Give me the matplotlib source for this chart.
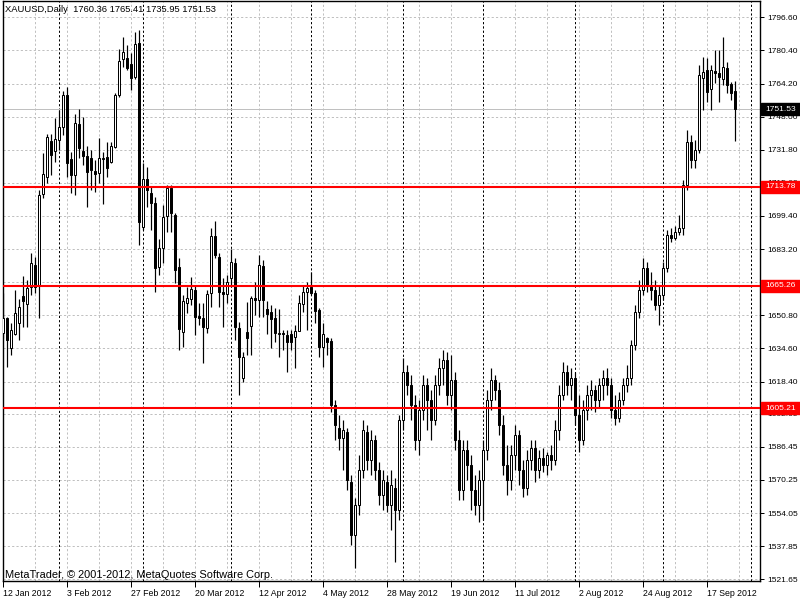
import matplotlib
matplotlib.use("Agg")
import matplotlib.pyplot as plt
from matplotlib import font_manager
from matplotlib.patches import Rectangle
from matplotlib.transforms import IdentityTransform

# ---------------- data ----------------
opens = [1642.1, 1649.5, 1634.8, 1641.6, 1647.0, 1660.2, 1656.3, 1664.6, 1675.4, 1665.6,
         1710.1, 1718.4, 1736.0, 1731.2, 1736.5, 1742.9, 1758.5, 1727.3, 1719.4, 1744.4,
         1731.2, 1728.7, 1727.8, 1721.4, 1720.4, 1727.5, 1728.2, 1725.8, 1733.1, 1758.5,
         1776.2, 1776.7, 1773.7, 1767.4, 1784.0, 1694.0, 1717.5, 1710.6, 1705.7, 1674.4,
         1683.7, 1699.4, 1713.1, 1699.9, 1674.4, 1642.6, 1656.8, 1658.8, 1663.1, 1650.4,
         1649.4, 1644.6, 1661.7, 1689.6, 1679.3, 1662.2, 1661.2, 1669.0, 1676.4, 1644.6,
         1620.0, 1642.6, 1645.5, 1659.2, 1658.3, 1674.9, 1653.9, 1652.4, 1649.4, 1641.6,
         1642.1, 1641.1, 1641.6, 1640.2, 1643.1, 1656.3, 1662.2, 1664.6, 1661.7, 1653.4,
         1635.3, 1639.7, 1638.2, 1606.9, 1595.7, 1590.8, 1593.7, 1569.3, 1543.3, 1558.0,
         1575.1, 1593.7, 1580.0, 1589.8, 1575.1, 1562.9, 1569.3, 1558.0, 1566.3, 1555.6,
         1599.6, 1623.1, 1616.7, 1606.9, 1589.8, 1604.5, 1616.7, 1609.4, 1599.6, 1616.7,
         1625.0, 1628.9, 1611.8, 1619.2, 1589.8, 1565.3, 1584.9, 1577.6, 1565.3, 1558.0,
         1570.2, 1584.9, 1609.4, 1619.2, 1614.3, 1597.1, 1577.6, 1570.2, 1582.5, 1592.3,
         1575.1, 1566.3, 1580.0, 1585.9, 1575.1, 1581.0, 1577.6, 1582.5, 1580.0, 1594.7,
         1611.8, 1623.1, 1616.7, 1620.1, 1602.0, 1589.8, 1604.5, 1611.8, 1614.3, 1609.4,
         1616.7, 1620.1, 1616.7, 1604.5, 1600.6, 1609.4, 1616.7, 1620.1, 1636.3, 1652.4,
         1663.2, 1674.0, 1665.6, 1663.2, 1655.8, 1660.7, 1674.0, 1690.1, 1688.6, 1691.6,
         1693.5, 1714.5, 1735.6, 1726.8, 1731.7, 1766.9, 1770.8, 1761.5, 1770.3, 1769.3,
         1766.4, 1771.8, 1764.0, 1760.36]

highs = [1661.7, 1650.0, 1647.0, 1663.2, 1658.7, 1670.0, 1668.0, 1681.2, 1679.3, 1712.1,
         1730.2, 1739.5, 1739.5, 1747.3, 1751.2, 1760.5, 1762.5, 1730.7, 1749.3, 1751.7,
         1747.8, 1733.6, 1731.6, 1726.8, 1737.5, 1730.7, 1735.6, 1735.6, 1759.5, 1781.1,
         1786.9, 1783.0, 1779.1, 1789.4, 1790.4, 1725.3, 1723.4, 1713.6, 1708.7, 1688.1,
         1704.8, 1714.6, 1714.6, 1700.8, 1678.8, 1660.7, 1664.6, 1669.5, 1665.6, 1656.8,
         1656.8, 1663.2, 1693.5, 1696.9, 1681.2, 1669.0, 1670.5, 1683.2, 1678.8, 1647.5,
         1632.8, 1657.3, 1660.2, 1667.1, 1680.3, 1677.8, 1657.8, 1655.8, 1654.4, 1653.9,
         1643.6, 1643.6, 1643.6, 1646.0, 1660.7, 1665.6, 1667.1, 1672.0, 1663.2, 1654.4,
         1647.0, 1640.2, 1639.7, 1609.4, 1602.0, 1599.6, 1595.7, 1572.7, 1561.4, 1582.5,
         1599.6, 1597.1, 1594.7, 1592.3, 1579.0, 1575.1, 1572.7, 1575.1, 1571.2, 1602.0,
         1629.9, 1626.5, 1621.6, 1611.8, 1609.4, 1621.6, 1620.1, 1614.3, 1621.6, 1629.9,
         1633.8, 1632.9, 1631.4, 1623.1, 1594.7, 1589.8, 1589.8, 1582.5, 1572.7, 1575.1,
         1589.8, 1614.3, 1625.0, 1621.6, 1618.2, 1602.0, 1587.4, 1587.4, 1597.1, 1594.7,
         1580.0, 1584.9, 1589.8, 1589.8, 1584.9, 1585.9, 1583.9, 1587.4, 1599.6, 1616.7,
         1628.0, 1626.5, 1625.0, 1623.1, 1611.8, 1609.4, 1616.7, 1619.2, 1616.7, 1620.1,
         1624.0, 1625.0, 1620.1, 1611.8, 1613.3, 1620.1, 1626.5, 1638.7, 1655.8, 1668.1,
         1678.8, 1676.9, 1672.0, 1668.1, 1665.6, 1676.9, 1692.5, 1693.5, 1694.5, 1699.9,
         1717.0, 1741.5, 1739.0, 1736.6, 1773.3, 1777.2, 1776.7, 1773.3, 1780.6, 1780.6,
         1786.9, 1774.7, 1764.9, 1765.41]

lows = [1639.7, 1625.5, 1631.3, 1641.1, 1638.7, 1645.0, 1645.0, 1660.7, 1661.7, 1649.5,
        1708.2, 1715.5, 1719.4, 1725.8, 1731.7, 1739.0, 1718.4, 1710.6, 1709.6, 1727.8,
        1724.3, 1703.8, 1712.1, 1711.1, 1715.5, 1705.2, 1718.4, 1725.3, 1732.6, 1757.6,
        1772.3, 1770.8, 1761.0, 1766.4, 1685.2, 1692.5, 1703.8, 1692.5, 1662.2, 1670.5,
        1676.4, 1691.5, 1691.5, 1666.6, 1633.8, 1635.3, 1651.9, 1655.8, 1641.1, 1646.0,
        1627.5, 1642.1, 1654.9, 1678.8, 1654.9, 1645.0, 1656.8, 1664.6, 1638.7, 1611.8,
        1618.2, 1631.3, 1631.3, 1650.9, 1649.9, 1649.9, 1641.6, 1634.8, 1637.7, 1630.4,
        1633.8, 1623.0, 1633.8, 1625.0, 1643.1, 1652.4, 1643.6, 1660.7, 1647.0, 1630.4,
        1625.5, 1631.3, 1603.5, 1589.8, 1584.9, 1575.1, 1565.3, 1538.4, 1527.2, 1553.1,
        1571.2, 1575.1, 1572.7, 1570.2, 1558.0, 1555.6, 1554.6, 1545.8, 1530.1, 1550.7,
        1594.7, 1611.8, 1599.6, 1584.9, 1582.5, 1599.6, 1594.7, 1589.8, 1597.1, 1611.8,
        1616.7, 1606.9, 1604.5, 1584.9, 1560.5, 1560.5, 1570.2, 1555.6, 1553.1, 1549.7,
        1550.7, 1580.0, 1604.5, 1609.4, 1592.3, 1572.7, 1562.9, 1565.3, 1575.1, 1567.8,
        1561.9, 1562.9, 1575.1, 1569.3, 1571.2, 1574.2, 1572.7, 1575.1, 1577.6, 1589.8,
        1609.4, 1611.8, 1609.4, 1597.1, 1583.9, 1587.4, 1599.6, 1604.5, 1603.5, 1605.5,
        1609.4, 1611.8, 1600.6, 1597.1, 1598.6, 1606.9, 1613.3, 1616.7, 1633.8, 1649.5,
        1660.7, 1662.2, 1658.3, 1653.4, 1646.1, 1658.3, 1672.0, 1686.7, 1687.6, 1690.1,
        1690.1, 1712.1, 1722.9, 1722.9, 1730.2, 1751.2, 1755.2, 1751.2, 1764.4, 1755.2,
        1763.5, 1759.5, 1756.1, 1735.95]

closes = [1649.5, 1638.7, 1643.6, 1651.9, 1654.8, 1657.8, 1664.1, 1676.3, 1664.6, 1709.6,
          1719.9, 1738.0, 1729.2, 1737.0, 1742.9, 1758.5, 1725.3, 1719.4, 1744.9, 1732.7,
          1728.7, 1720.9, 1721.9, 1719.9, 1727.8, 1728.0, 1722.9, 1733.6, 1758.5, 1775.2,
          1779.6, 1771.8, 1766.9, 1783.5, 1696.4, 1717.5, 1712.1, 1705.7, 1673.9, 1683.7,
          1698.9, 1713.1, 1700.8, 1673.0, 1644.1, 1657.8, 1659.2, 1663.6, 1649.9, 1649.4,
          1645.0, 1661.2, 1689.6, 1680.3, 1662.2, 1661.2, 1667.1, 1676.9, 1645.0, 1630.4,
          1630.4, 1639.7, 1659.2, 1658.3, 1675.4, 1658.3, 1651.4, 1649.0, 1642.1, 1642.1,
          1641.6, 1637.7, 1637.7, 1643.1, 1656.8, 1662.2, 1664.1, 1661.7, 1652.9, 1635.3,
          1641.6, 1637.7, 1606.9, 1597.1, 1590.8, 1594.7, 1570.2, 1543.3, 1558.0, 1575.1,
          1594.7, 1580.0, 1589.8, 1575.1, 1562.9, 1570.2, 1558.0, 1567.8, 1555.6, 1599.6,
          1623.1, 1616.7, 1606.9, 1589.8, 1604.5, 1616.7, 1609.4, 1599.6, 1616.7, 1625.0,
          1628.9, 1611.8, 1619.2, 1589.8, 1565.3, 1584.9, 1577.6, 1565.3, 1558.0, 1570.2,
          1584.9, 1609.4, 1619.2, 1614.3, 1597.1, 1577.6, 1570.2, 1582.5, 1592.3, 1575.1,
          1566.3, 1580.0, 1585.9, 1575.1, 1581.0, 1577.6, 1582.5, 1580.0, 1594.7, 1611.8,
          1623.1, 1616.7, 1620.1, 1602.0, 1589.8, 1604.5, 1611.8, 1614.3, 1609.4, 1616.7,
          1620.1, 1616.7, 1604.5, 1600.6, 1609.4, 1616.7, 1620.1, 1636.3, 1652.4, 1663.2,
          1674.0, 1665.6, 1663.2, 1655.8, 1660.7, 1674.0, 1690.1, 1688.6, 1691.6, 1693.5,
          1714.5, 1735.6, 1726.8, 1731.7, 1768.4, 1769.8, 1760.0, 1770.8, 1769.3, 1767.4,
          1772.3, 1763.5, 1759.5, 1751.53]

date_labels = ["12 Jan 2012", "3 Feb 2012", "27 Feb 2012", "20 Mar 2012", "12 Apr 2012",
               "4 May 2012", "28 May 2012", "19 Jun 2012", "11 Jul 2012", "2 Aug 2012",
               "24 Aug 2012", "17 Sep 2012"]
bars_per_label = 16
month_start_bars = [14, 35, 57, 77, 100, 120, 143, 165, 187]
price_ticks = [1796.60, 1780.40, 1764.20, 1748.00, 1731.80, 1715.60, 1699.40, 1683.20,
               1667.00, 1650.80, 1634.60, 1618.40, 1602.65, 1586.45, 1570.25, 1554.05,
               1537.85, 1521.65]
levels = [1713.78, 1665.26, 1605.21]
symbol = "XAUUSD,Daily"
last_price = closes[-1]
copyright_text = "MetaTrader, \u00a9 2001-2012, MetaQuotes Software Corp."

# ---------------- fonts ----------------
def pick(names):
    for n in names:
        try:
            font_manager.findfont(font_manager.FontProperties(family=n), fallback_to_default=False)
            return n
        except Exception:
            pass
    return "DejaVu Sans"

FONT = pick(["Liberation Sans Narrow", "Liberation Sans", "DejaVu Sans"])
FS = 7.2 if FONT == "Liberation Sans Narrow" else 6.0
plt.rcParams["font.family"] = [FONT, "DejaVu Sans"]

# ---------------- figure ----------------
W, H = 800, 600
fig = plt.figure(figsize=(8, 6), dpi=100)
fig.patch.set_facecolor("white")
ax = fig.add_axes([2.5 / W, 19 / H, 757.5 / W, 580 / H])
ax.set_xlim(-0.2, 189.2)
ax.set_ylim(1520.8, 1804.6)
ax.set_facecolor("white")

px = 0.72  # one pixel in points
grid_c = "#c0c0c0"
dash = (0, (3 * px, 3 * px))

for v in price_ticks:
    ax.axhline(v, color=grid_c, lw=px, ls=dash, zorder=1)
for k in range(0, 24):
    ax.axvline(8 * k, color=grid_c, lw=px, ls=dash, zorder=1)
for m in month_start_bars:
    ax.axvline(m, color="black", lw=px, ls=(0, (3 * px, 3 * px)), zorder=1.5)

ax.axhline(last_price, color=grid_c, lw=px, zorder=1.6)

n = len(opens)
xs = list(range(n))
ax.vlines(xs, lows, highs, color="black", lw=px * 1.2, zorder=2)
for i in range(n):
    o, c = opens[i], closes[i]
    bottom = min(o, c)
    h = max(abs(c - o), 0.35)
    fc = "white" if c >= o else "black"
    ax.add_patch(Rectangle((i - 0.3, bottom), 0.6, h, facecolor=fc,
                           edgecolor="black", lw=px, zorder=3))

for lv in levels:
    ax.axhline(lv, color="#ff0000", lw=1.5, zorder=4)

for s in ax.spines.values():
    s.set_color("black")
    s.set_linewidth(1.0)

ax.yaxis.tick_right()
ax.set_yticks(price_ticks)
ax.set_yticklabels([f"{v:.2f}" for v in price_ticks], fontsize=FS)
ax.tick_params(axis="y", direction="out", length=3, width=px, pad=2, colors="black")

ax.set_xticks([k * bars_per_label for k in range(len(date_labels))])
ax.set_xticklabels(date_labels, fontsize=FS * 1.05, ha="left")
ax.tick_params(axis="x", direction="out", length=4, width=px, pad=1.5, colors="black")

# header and footer texts
header = f"{symbol}  {opens[-1]:.2f} {highs[-1]:.2f} {lows[-1]:.2f} {closes[-1]:.2f}"
fig.text(5 / W, 1 - 10 / H, header, fontsize=FS * 1.12, ha="left", va="center", color="black")
fig.text(5 / W, 1 - 575 / H, copyright_text, fontsize=FS * 1.32, ha="left", va="center",
         color="black")

# price boxes on the right scale
def price_box(value, face):
    y = ax.transData.transform((0, value))[1]
    fig.patches.append(Rectangle((761, y - 6), 39, 12, transform=IdentityTransform(),
                                 facecolor=face, edgecolor=face, zorder=5))
    fig.text(765 / W, y / H, f"{value:.2f}", fontsize=FS, color="white",
             ha="left", va="center", zorder=6)

price_box(last_price, "black")
for lv in levels:
    price_box(lv, "#ff0000")

fig.savefig("out.png", dpi=100)
